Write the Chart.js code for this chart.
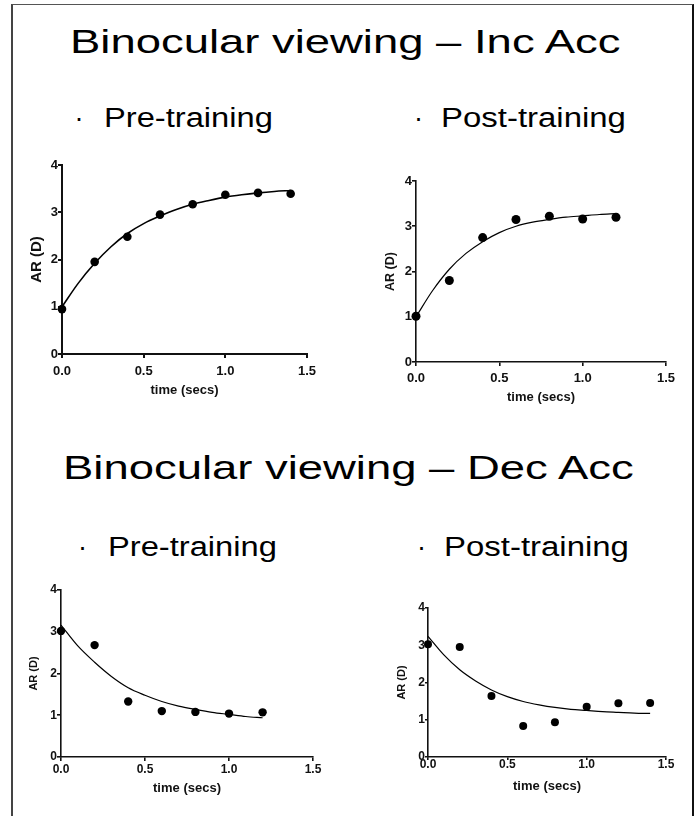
<!DOCTYPE html>
<html><head><meta charset="utf-8">
<script src="https://cdn.jsdelivr.net/npm/chart.js@4"></script>
<style>
html,body{margin:0;padding:0;background:#fff;width:698px;height:816px;overflow:hidden;position:relative;font-family:"Liberation Sans",Arial,sans-serif;}
.frame{position:absolute;left:11px;top:4px;width:679px;height:900px;border-left:2px solid #444;border-top:1px solid #555;border-right:2px solid #111;}
.t{position:absolute;white-space:nowrap;line-height:1;color:#000;transform-origin:0 0;}
canvas{position:absolute;}
</style></head><body>
<div class="frame"></div>
<div class="t" style="left:70px;top:25px;font-size:33.5px;transform:scaleX(1.356)">Binocular viewing – Inc Acc</div>
<div class="t" style="left:74.5px;top:105.4px;font-size:27px;">·</div>
<div class="t" style="left:104px;top:105.4px;font-size:27px;transform:scaleX(1.21)">Pre-training</div>
<div class="t" style="left:414px;top:105.4px;font-size:27px;">·</div>
<div class="t" style="left:440.5px;top:105.4px;font-size:27px;transform:scaleX(1.22)">Post-training</div>
<div class="t" style="left:63px;top:450.6px;font-size:33.5px;transform:scaleX(1.356)">Binocular viewing – Dec Acc</div>
<div class="t" style="left:78px;top:534.4px;font-size:27px;">·</div>
<div class="t" style="left:107.5px;top:534.4px;font-size:27px;transform:scaleX(1.21)">Pre-training</div>
<div class="t" style="left:417px;top:534.4px;font-size:27px;">·</div>
<div class="t" style="left:444px;top:534.4px;font-size:27px;transform:scaleX(1.22)">Post-training</div>
<canvas id="c1"></canvas>
<canvas id="c2"></canvas>
<canvas id="c3"></canvas>
<canvas id="c4"></canvas>
<script>
// ---- data ----
const xTickLabels = ['0.0', '0.5', '1.0', '1.5'];
const yTickLabels = ['0', '1', '2', '3', '4'];
const xAxisTitle = 'time (secs)';
const yAxisTitle = 'AR (D)';

// Inc Acc, pre-training
const incPreTime = [0, 0.2, 0.4, 0.6, 0.8, 1.0, 1.2, 1.4];
const incPreAR   = [0.95, 1.95, 2.48, 2.95, 3.17, 3.37, 3.41, 3.39];
const incPreFitTime = [0, 0.1, 0.2, 0.3, 0.4, 0.5, 0.6, 0.7, 0.8, 0.9, 1.0, 1.1, 1.2, 1.3, 1.4];
const incPreFitAR   = [1.0, 1.5, 1.92, 2.27, 2.55, 2.76, 2.92, 3.06, 3.17, 3.25, 3.32, 3.37, 3.41, 3.44, 3.46];

// Inc Acc, post-training
const incPostTime = [0, 0.2, 0.4, 0.6, 0.8, 1.0, 1.2];
const incPostAR   = [1.01, 1.80, 2.75, 3.15, 3.22, 3.16, 3.20];
const incPostFitTime = [0, 0.1, 0.2, 0.3, 0.4, 0.5, 0.6, 0.7, 0.8, 0.9, 1.0, 1.1, 1.2];
const incPostFitAR   = [1.0, 1.58, 2.05, 2.4, 2.66, 2.86, 3.0, 3.09, 3.15, 3.2, 3.23, 3.26, 3.28];

// Dec Acc, pre-training
const decPreTime = [0, 0.2, 0.4, 0.6, 0.8, 1.0, 1.2];
const decPreAR   = [3.02, 2.68, 1.33, 1.10, 1.08, 1.04, 1.07];
const decPreFitTime = [0, 0.1, 0.2, 0.3, 0.4, 0.5, 0.6, 0.7, 0.8, 0.9, 1.0, 1.1, 1.2];
const decPreFitAR   = [3.16, 2.66, 2.27, 1.93, 1.66, 1.48, 1.33, 1.22, 1.14, 1.07, 1.02, 0.97, 0.94];

// Dec Acc, post-training
const decPostTime = [0, 0.2, 0.4, 0.6, 0.8, 1.0, 1.2, 1.4];
const decPostAR   = [3.03, 2.95, 1.64, 0.83, 0.93, 1.35, 1.44, 1.45];
const decPostFitTime = [0, 0.1, 0.2, 0.3, 0.4, 0.5, 0.6, 0.7, 0.8, 0.9, 1.0, 1.1, 1.2, 1.3, 1.4];
const decPostFitAR   = [3.24, 2.74, 2.34, 2.04, 1.80, 1.62, 1.49, 1.40, 1.33, 1.28, 1.25, 1.22, 1.20, 1.18, 1.17];

// ---- layout / style ----
const FONT = '"Liberation Sans", Arial, sans-serif';
const panels = [
  {id:'c1', t:incPreTime, v:incPreAR, ft:incPreFitTime, fv:incPreFitAR,
   L:62, T:165, W:245, H:189, arX:37, arFont:15, xtY:390, tickFont:13, tl:4, xPad:5.2, axisW:2, lineW:1.6, r:4.3},
  {id:'c2', t:incPostTime, v:incPostAR, ft:incPostFitTime, fv:incPostFitAR,
   L:416, T:181, W:250, H:181, arX:390.7, arFont:12.5, xtY:397.3, tickFont:13, tl:4, xPad:4.8, axisW:1.6, lineW:1.2, r:4.5},
  {id:'c3', t:decPreTime, v:decPreAR, ft:decPreFitTime, fv:decPreFitAR,
   L:61, T:590, W:252, H:167, arX:34.3, arFont:11, xtY:788.3, tickFont:12, tl:4, xPad:1.8, axisW:1.6, lineW:1.2, r:4.2},
  {id:'c4', t:decPostTime, v:decPostAR, ft:decPostFitTime, fv:decPostFitAR,
   L:428, T:608, W:238, H:149, arX:402.3, arFont:11, xtY:786, tickFont:12, tl:3, xPad:-3.0, axisW:1.6, lineW:1.2, r:4.0},
];
const YW = 45, XH = 50, PT = 12, PR = 16;

panels.forEach(p => {
  const cv = document.getElementById(p.id);
  const cw = YW + p.W + PR, ch = PT + p.H + XH;
  cv.width = cw; cv.height = ch;
  cv.style.width = cw + 'px'; cv.style.height = ch + 'px';
  cv.style.left = (p.L - YW) + 'px'; cv.style.top = (p.T - PT) + 'px';
  const arLH = p.arFont * 1.2, xtLH = 13 * 1.2;
  const arPad = p.arX - (p.L - YW) - arLH / 2;
  const xtPad = (p.T + p.H + XH) - p.xtY - xtLH / 2;
  new Chart(cv, {
    type: 'scatter',
    data: {
      datasets: [
        {data: p.ft.map((x, i) => ({x, y: p.fv[i]})), showLine: true, borderColor: '#000',
         borderWidth: p.lineW, pointRadius: 0, cubicInterpolationMode: 'monotone', clip: false},
        {data: p.t.map((x, i) => ({x, y: p.v[i]})), showLine: false, pointRadius: p.r,
         pointBackgroundColor: '#000', pointBorderWidth: 0, clip: false}
      ]
    },
    options: {
      responsive: false, animation: false, devicePixelRatio: 1,
      layout: {padding: {top: PT, right: PR, left: 0, bottom: 0}},
      plugins: {legend: {display: false}, tooltip: {enabled: false}},
      scales: {
        x: {
          type: 'linear', min: 0, max: 1.5,
          afterFit: s => { s.height = XH; },
          afterBuildTicks: s => { s.ticks = xTickLabels.map(v => ({value: parseFloat(v)})); },
          grid: {drawOnChartArea: false, drawTicks: true, tickLength: p.tl, color: '#111', lineWidth: p.axisW},
          border: {display: true, color: '#111', width: p.axisW},
          ticks: {color: '#111', padding: p.xPad, maxRotation: 0, autoSkip: false,
                  font: {family: FONT, size: p.tickFont, weight: 'bold'},
                  callback: (v) => xTickLabels.find(l => parseFloat(l) === v)},
          title: {display: true, text: xAxisTitle, color: '#111', padding: {top: 0, bottom: xtPad},
                  font: {family: FONT, size: 13, weight: 'bold'}}
        },
        y: {
          type: 'linear', min: 0, max: 4,
          afterFit: s => { s.width = YW; },
          afterBuildTicks: s => { s.ticks = yTickLabels.map(v => ({value: parseFloat(v)})); },
          grid: {drawOnChartArea: false, drawTicks: true, tickLength: p.tl, color: '#111', lineWidth: p.axisW},
          border: {display: true, color: '#111', width: p.axisW},
          ticks: {color: '#111', padding: 0, autoSkip: false,
                  font: {family: FONT, size: p.tickFont, weight: 'bold'},
                  callback: (v) => yTickLabels.find(l => parseFloat(l) === v)},
          title: {display: true, text: yAxisTitle, color: '#111', padding: {top: arPad, bottom: 0},
                  font: {family: FONT, size: p.arFont, weight: 'bold'}}
        }
      }
    }
  });
});
</script>
</body></html>
